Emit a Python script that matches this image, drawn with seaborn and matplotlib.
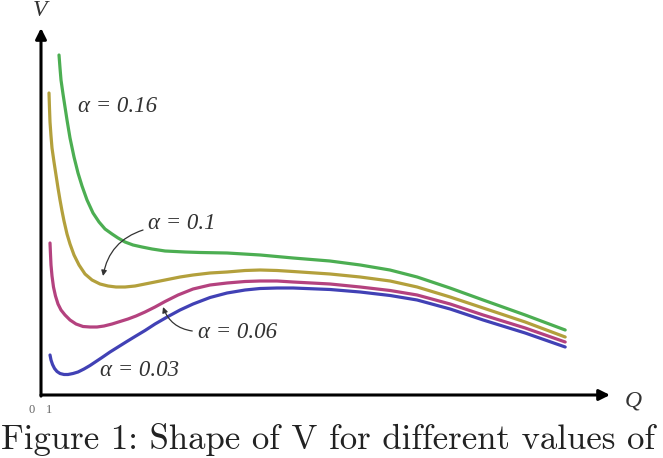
import pandas as pd
import matplotlib
matplotlib.use("Agg")
import matplotlib.pyplot as plt
import seaborn as sns

# curve samples (Q, V in arbitrary units)
q_016 = [2.25, 2.375, 2.5, 2.75, 3.0, 3.25, 3.625, 4.125, 4.625, 5.125, 5.75, 6.5, 7.25,
         8.0, 8.875, 9.625, 10.5, 11.5, 12.625, 13.875, 15.5, 18.0, 19.9, 23.25, 27.4,
         31.5, 36.1, 39.9, 43.6, 47.0, 51.1, 55.25, 60.5, 65.5]
v_016 = [3.40, 3.27, 3.15, 3.01, 2.88, 2.75, 2.57, 2.38, 2.22, 2.09, 1.95, 1.82, 1.73,
         1.66, 1.61, 1.57, 1.53, 1.50, 1.48, 1.46, 1.44, 1.43, 1.425, 1.42, 1.40,
         1.37, 1.34, 1.30, 1.25, 1.18, 1.07, 0.95, 0.80, 0.65]

q_01 = [1.0, 1.06, 1.125, 1.25, 1.375, 1.625, 1.875, 2.125, 2.375, 2.625, 2.875, 3.25,
        3.625, 4.125, 4.75, 5.5, 6.375, 7.375, 8.375, 9.375, 10.5, 11.75, 13.625, 15.5,
        17.375, 19.0, 21.125, 23.25, 25.5, 27.375, 29.5, 31.5, 36.125, 39.875, 43.625,
        47.0, 51.125, 55.25, 60.5, 65.5]
v_01 = [3.02, 2.87, 2.73, 2.59, 2.47, 2.33, 2.20, 2.07, 1.95, 1.84, 1.74, 1.61,
        1.51, 1.40, 1.30, 1.21, 1.15, 1.11, 1.09, 1.08, 1.08, 1.09, 1.12, 1.15,
        1.18, 1.20, 1.22, 1.23, 1.245, 1.25, 1.245, 1.235, 1.21, 1.18, 1.14,
        1.08, 0.98, 0.87, 0.73, 0.58]

q_006 = [1.125, 1.19, 1.25, 1.375, 1.56, 1.81, 2.125, 2.5, 3.0, 3.625, 4.375, 5.25, 6.125,
         7.0, 7.875, 8.875, 9.875, 10.875, 11.875, 13.0, 14.25, 15.5, 17.125, 19.0, 21.125,
         23.25, 25.5, 27.375, 29.5, 31.5, 36.125, 39.875, 43.625, 47.0, 51.125, 55.25,
         60.5, 65.5]
v_006 = [1.52, 1.40, 1.30, 1.19, 1.08, 0.99, 0.91, 0.85, 0.80, 0.75, 0.71, 0.685, 0.68,
         0.68, 0.69, 0.71, 0.735, 0.76, 0.79, 0.83, 0.88, 0.935, 1.00, 1.06, 1.10,
         1.12, 1.135, 1.14, 1.14, 1.13, 1.11, 1.08, 1.045, 1.00, 0.91, 0.80,
         0.67, 0.53]

q_003 = [1.125, 1.25, 1.44, 1.69, 2.0, 2.375, 2.875, 3.375, 4.0, 4.625, 5.375, 6.125, 6.875,
         7.625, 8.625, 9.625, 10.625, 11.75, 13.0, 14.25, 15.875, 17.375, 19.0, 21.125,
         23.25, 25.5, 27.375, 29.5, 31.5, 36.125, 39.875, 43.625, 47.0, 51.125, 55.25,
         60.5, 65.5]
v_003 = [0.40, 0.35, 0.305, 0.265, 0.235, 0.215, 0.205, 0.205, 0.215, 0.23, 0.26, 0.295, 0.335,
         0.375, 0.43, 0.48, 0.53, 0.585, 0.645, 0.71, 0.785, 0.85, 0.91, 0.975,
         1.02, 1.05, 1.065, 1.07, 1.07, 1.055, 1.03, 0.995, 0.95, 0.86, 0.75,
         0.62, 0.48]

alphas = ["0.16", "0.1", "0.06", "0.03"]
colors = {"0.16": "#4cae52", "0.1": "#b3a03c", "0.06": "#b4427f", "0.03": "#4141b5"}

frames = []
for a, q, v in zip(alphas, [q_016, q_01, q_006, q_003], [v_016, v_01, v_006, v_003]):
    frames.append(pd.DataFrame({"Q": q, "V": v, "alpha": a}))
df = pd.concat(frames, ignore_index=True)

sns.set_style("white")
plt.rcParams["font.family"] = ["Liberation Serif", "DejaVu Serif"]

fig = plt.figure(figsize=(6.63, 4.58), dpi=100)
ax = fig.add_axes([41 / 663, 63 / 458, 569 / 663, 367 / 458])

sns.lineplot(data=df, x="Q", y="V", hue="alpha", palette=colors, sort=False,
             estimator=None, units="alpha", lw=2.3, legend=False, ax=ax,
             solid_capstyle="round", solid_joinstyle="round")

ax.set_xlim(0, 71.1)
ax.set_ylim(0, 3.67)
for s in ax.spines.values():
    s.set_visible(False)
ax.set_xticks([])
ax.set_yticks([])
ax.set_xlabel("")
ax.set_ylabel("")

# axis arrows
arr = dict(arrowstyle="-|>", lw=2.2, color="black", mutation_scale=16, shrinkA=0, shrinkB=0)
ax.annotate("", xy=(1, 0), xytext=(0, 0), xycoords="axes fraction", arrowprops=arr)
ax.annotate("", xy=(0, 1), xytext=(0, -0.003), xycoords="axes fraction", arrowprops=arr)

fig.text(40 / 663, 0.999, "V", fontsize=17, style="italic",
         ha="center", va="top", color="#333333")
ax.text(1.04, -0.015, "Q", transform=ax.transAxes, fontsize=17, style="italic",
        ha="center", va="center", color="#333333")
ax.text(-0.017, -0.04, "0", transform=ax.transAxes, fontsize=9, ha="center", va="center",
        color="#666666")
ax.text(1.0, -0.04, "1", transform=ax.get_xaxis_transform(), fontsize=9, ha="center",
        va="center", color="#666666")

lab = dict(fontsize=16.5, style="italic", color="#333333", va="center", ha="left")
ax.text(4.6, 2.88, "α = 0.16", **lab)
ax.text(13.4, 1.71, "α = 0.1", **lab)
ax.text(19.6, 0.63, "α = 0.06", **lab)
ax.text(7.4, 0.25, "α = 0.03", **lab)

ax.annotate("", xy=(7.75, 1.19), xytext=(12.75, 1.65),
            arrowprops=dict(arrowstyle="-|>", lw=0.9, color="#333333", mutation_scale=8,
                            connectionstyle="arc3,rad=0.3", shrinkA=0, shrinkB=0))
ax.annotate("", xy=(15.25, 0.88), xytext=(18.9, 0.64),
            arrowprops=dict(arrowstyle="-|>", lw=0.9, color="#333333", mutation_scale=8,
                            connectionstyle="arc3,rad=-0.3", shrinkA=0, shrinkB=0))

fig.text(0.002, 0.004, "Figure 1: Shape of V for different values of", fontsize=25,
         family="cmr10", ha="left", va="bottom", color="#222222")

fig.savefig("out.png", dpi=100)
